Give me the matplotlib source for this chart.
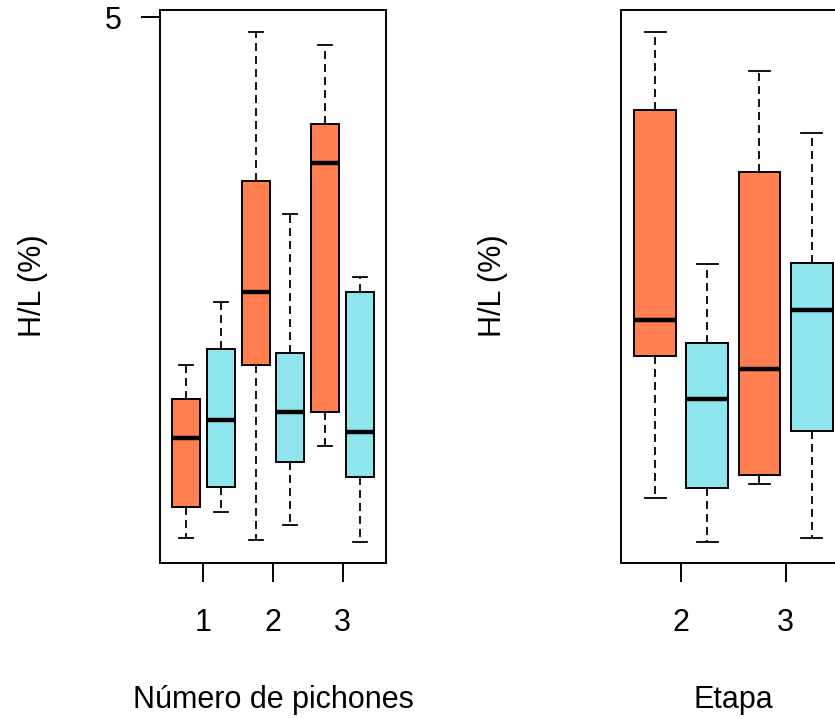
import matplotlib
matplotlib.use("Agg")
import matplotlib.pyplot as plt

plt.rcParams['font.family'] = ['Liberation Sans', 'DejaVu Sans']

# H/L (%) by number of chicks: pairs of boxes (orange, cyan) per group
chicks_labels = ['1', '2', '3']
chicks_whislo = [1.03, 1.23, 1.02, 1.13, 1.73, 1.00]
chicks_q1 = [1.27, 1.42, 2.35, 1.61, 1.99, 1.50]
chicks_med = [1.79, 1.93, 2.91, 1.99, 3.89, 1.84]
chicks_q3 = [2.09, 2.47, 3.75, 2.44, 4.19, 2.91]
chicks_whishi = [2.35, 2.83, 4.89, 3.50, 4.79, 3.02]

# H/L (%) by stage
stage_labels = ['2', '3']
stage_whislo = [1.34, 1.00, 1.44, 1.03]
stage_q1 = [2.42, 1.41, 1.51, 1.85]
stage_med = [2.69, 2.09, 2.32, 2.77]
stage_q3 = [4.29, 2.52, 3.82, 3.13]
stage_whishi = [4.89, 3.12, 4.59, 4.12]

box_colors = ['#FF7F50', '#8EE5EE']
y_ticks = [5]
y_range = (0.841, 5.056)

W, H = 835, 719
fig = plt.figure(figsize=(W / 100, H / 100), dpi=100)
FS = 22
LW = 1.4


def stats(lo, q1, med, q3, hi):
    return [dict(whislo=a, q1=b, med=c, q3=d, whishi=e, fliers=[])
            for a, b, c, d, e in zip(lo, q1, med, q3, hi)]


def draw(ax, st, labels):
    n = len(st)
    pos = list(range(1, n + 1))
    ext = 0.04 * n
    art = ax.bxp(st, positions=pos, widths=0.8, patch_artist=True,
                 manage_ticks=False, showfliers=False, capwidths=0.4,
                 boxprops=dict(linewidth=LW, edgecolor='black'),
                 medianprops=dict(linewidth=3.2, color='black',
                                  solid_capstyle='butt'),
                 whiskerprops=dict(linewidth=1.3, color='black',
                                   linestyle=(0, (4.4, 2.8))),
                 capprops=dict(linewidth=1.3, color='black'))
    for i, patch in enumerate(art['boxes']):
        patch.set_facecolor(box_colors[i % 2])
    ax.set_xlim(0.5 - ext, n + 0.5 + ext)
    ax.set_ylim(*y_range)
    ax.set_xticks([1.5 + 2 * k for k in range(len(labels))])
    ax.set_xticklabels(labels, fontsize=FS)
    ax.tick_params(axis='x', length=13.7, width=LW, pad=19)
    for sp in ax.spines.values():
        sp.set_linewidth(LW)


ax1 = fig.add_axes([160.3 / W, (H - 563) / H, 225.4 / W, 553 / H])
draw(ax1, stats(chicks_whislo, chicks_q1, chicks_med, chicks_q3, chicks_whishi),
     chicks_labels)
ax1.set_yticks(y_ticks)
ax1.set_yticklabels([str(t) for t in y_ticks], fontsize=FS)
ax1.tick_params(axis='y', length=13.7, width=LW, pad=14)

ax2 = fig.add_axes([620.7 / W, (H - 563) / H, 225.4 / W, 553 / H])
draw(ax2, stats(stage_whislo, stage_q1, stage_med, stage_q3, stage_whishi),
     stage_labels)
ax2.set_yticks([])

# axis titles
fig.text(273 / W, 1 - 708 / H, 'Número de pichones', fontsize=FS,
         ha='center', va='baseline')
fig.text(733 / W, 1 - 708 / H, 'Etapa', fontsize=FS,
         ha='center', va='baseline')
for xb in (40.7, 501):
    fig.text(xb / W, 1 - 286 / H, 'H/L (%)', fontsize=FS, rotation=90,
             rotation_mode='anchor', ha='center', va='baseline')

fig.savefig('out.png', dpi=100)
